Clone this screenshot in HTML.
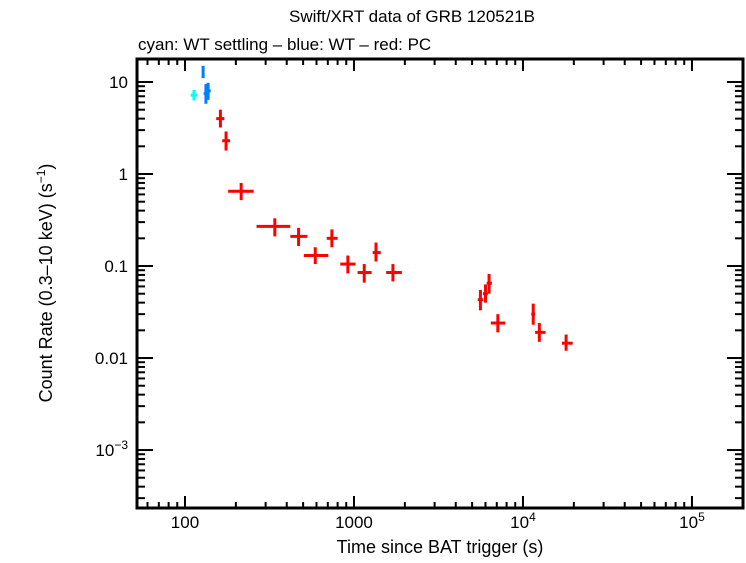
<!DOCTYPE html>
<html><head><meta charset="utf-8"><style>
body{margin:0;background:#fff;}
svg text{font-family:"Liberation Sans",sans-serif;fill:#000;}
</style></head><body>
<svg id="chart" width="746" height="558" viewBox="0 0 746 558" xmlns="http://www.w3.org/2000/svg">
<text x="412" y="22" font-size="17" text-anchor="middle">Swift/XRT data of GRB 120521B</text>
<text x="138" y="50" font-size="17">cyan: WT settling – blue: WT – red: PC</text>
<g id="axes"></g>
<g id="marks"></g>
<text x="440" y="553" font-size="18" text-anchor="middle">Time since BAT trigger (s)</text>
<text transform="translate(52,283) rotate(-90)" font-size="18" text-anchor="middle">Count Rate (0.3–10 keV) (s<tspan dy="-7" font-size="12">−1</tspan><tspan dy="7">)</tspan></text>
</svg>
<script>
const cyanT=[113], cyanTlo=[108], cyanThi=[118], cyanR=[7.2], cyanRlo=[6.3], cyanRhi=[8.2];
const blueT=[128,133,137], blueTlo=[126,129,132], blueThi=[130,137,142], blueR=[13,7.5,8.0], blueRlo=[11,5.8,6.4], blueRhi=[15,9.5,9.8];
const redT=[162,175,215,340,470,590,740,920,1150,1350,1700,5600,6000,6300,7100,11500,12500,18000];
const redTlo=[153,166,180,265,420,505,690,830,1050,1290,1550,5400,5800,6100,6450,11200,11800,17000];
const redThi=[171,185,255,420,530,705,800,1020,1270,1440,1920,5800,6200,6550,7850,11800,13600,19700];
const redR=[4.0,2.3,0.65,0.27,0.21,0.13,0.2,0.105,0.085,0.14,0.085,0.043,0.05,0.065,0.024,0.03,0.019,0.0145];
const redRlo=[3.2,1.8,0.52,0.21,0.165,0.105,0.16,0.083,0.066,0.112,0.068,0.033,0.04,0.05,0.019,0.023,0.015,0.012];
const redRhi=[5.0,2.9,0.8,0.33,0.26,0.16,0.25,0.13,0.105,0.18,0.105,0.055,0.063,0.082,0.03,0.039,0.024,0.018];
const xTickVals=[100,1000,10000,100000];
const xTickLabels=["100","1000","10^4","10^5"];
const yTickVals=[10,1,0.1,0.01,0.001];
const yTickLabels=["10","1","0.1","0.01","10^−3"];

const L=137,R=743,T=59,B=508;
const xmin=1.716,xmax=5.302,ymin=-3.63,ymax=1.25;
const X=v=>L+(Math.log10(v)-xmin)/(xmax-xmin)*(R-L);
const Y=v=>B-(Math.log10(v)-ymin)/(ymax-ymin)*(B-T);
const NS="http://www.w3.org/2000/svg";
function mk(tag,attrs,parent){const e=document.createElementNS(NS,tag);for(const k in attrs)e.setAttribute(k,attrs[k]);parent.appendChild(e);return e;}
const axes=document.getElementById('axes'), marks=document.getElementById('marks');
const frame=mk('rect',{x:L,y:T,width:R-L,height:B-T,fill:'none',stroke:'#000','stroke-width':3},axes);


for(let d=1;d<=5;d++){for(let m=1;m<10;m++){const v=m*Math.pow(10,d);const lv=Math.log10(v);if(lv<xmin||lv>xmax)continue;const x=X(v);const len=m===1?12:6;
mk('line',{x1:x,x2:x,y1:B,y2:B-len,stroke:'#000','stroke-width':2},axes);mk('line',{x1:x,x2:x,y1:T,y2:T+len,stroke:'#000','stroke-width':2},axes);}}
xTickVals.forEach((v,i)=>{const lab=xTickLabels[i];const t=mk('text',{x:X(v),y:528,'font-size':17,'text-anchor':'middle'},axes);


if(lab.includes('^')){const p=lab.split('^');t.textContent=p[0];const s=mk('tspan',{dy:-7,'font-size':12},t);s.textContent=p[1];}else t.textContent=lab;});
for(let d=-4;d<=1;d++){for(let m=1;m<10;m++){const v=m*Math.pow(10,d);const lv=Math.log10(v);if(lv<ymin||lv>ymax)continue;const y=Y(v);const len=m===1?16:8;
mk('line',{x1:L,x2:L+len,y1:y,y2:y,stroke:'#000','stroke-width':2},axes);mk('line',{x1:R,x2:R-len,y1:y,y2:y,stroke:'#000','stroke-width':2},axes);}}
yTickVals.forEach((v,i)=>{const lab=yTickLabels[i];const t=mk('text',{x:128,y:Y(v)+6,'font-size':17,'text-anchor':'end'},axes);


if(lab.includes('^')){const p=lab.split('^');t.textContent=p[0];const s=mk('tspan',{dy:-7,'font-size':12},t);s.textContent=p[1];}else t.textContent=lab;});
function series(T_,Tl,Th,Rv,Rl,Rh,color,name){const g=mk('g',{},marks);


T_.forEach((t,i)=>{const yc=Y(Rv[i]),xc=X(t);
mk('line',{x1:X(Tl[i]),x2:X(Th[i]),y1:yc,y2:yc,stroke:color,'stroke-width':3},g);
mk('line',{x1:xc,x2:xc,y1:Y(Rl[i]),y2:Y(Rh[i]),stroke:color,'stroke-width':3},g);});}
series(cyanT,cyanTlo,cyanThi,cyanR,cyanRlo,cyanRhi,'#00ffff','wt-settling-series');
series(blueT,blueTlo,blueThi,blueR,blueRlo,blueRhi,'#0080ff','wt-series');
series(redT,redTlo,redThi,redR,redRlo,redRhi,'#ff0000','pc-series');
</script>
</body></html>
